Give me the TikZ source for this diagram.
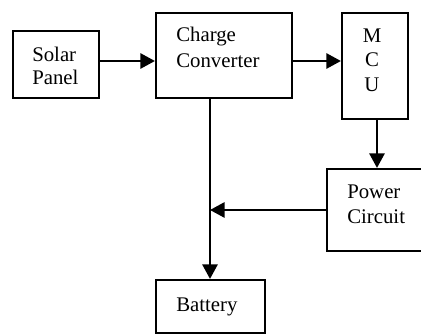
\documentclass[tikz,border=0pt]{standalone}
\usepackage{fontspec}
\setmainfont{Liberation Serif}
\usetikzlibrary{arrows.meta,fit}
\begin{document}
\begin{tikzpicture}[x=0.75pt,y=-0.75pt,
  box/.style={draw, line width=1.6pt, inner sep=0pt},
  lbl/.style={inner sep=0pt, anchor=base west, font=\fontsize{15.6}{18}\selectfont},
  clbl/.style={inner sep=0pt, anchor=base, font=\fontsize{15.6}{18}\selectfont},
  arr/.style={line width=1.6pt, -{Triangle[length=11pt,width=11.5pt]}}]
\useasboundingbox (0,0) rectangle (421,334);
% boxes
\node[box, fit={(13,31) (99,98)}] (solar) {};
\node[box, fit={(156,13) (292,98)}] (charge) {};
\node[box, fit={(342,13) (408,119)}] (mcu) {};
\node[box, fit={(327,169) (424,251)}] (power) {};
\node[box, fit={(156,280) (265,333)}] (battery) {};
% texts
\node[lbl] (t1) at (32,62) {Solar};
\node[lbl] (t2) at (32,85) {Panel};
\node[lbl] (t3) at (176,42) {Charge};
\node[lbl] (t4) at (176,68) {Converter};
\node[clbl] (t5) at (372,43) {M};
\node[clbl] (t6) at (372,67) {C};
\node[clbl] (t7) at (372,92) {U};
\node[lbl] (t8) at (347,199) {Power};
\node[lbl] (t9) at (347,224) {Circuit};
\node[lbl] (t10) at (176,312) {Battery};
% connectors
\coordinate (r1) at (0,61);
\coordinate (c2) at (377,0);
\coordinate (c3) at (210,0);
\draw[arr] (solar.east |- r1) -- (charge.west |- r1);
\draw[arr] (charge.east |- r1) -- (mcu.west |- r1);
\draw[arr] (mcu.south -| c2) -- (power.north -| c2);
\draw[arr] (charge.south -| c3) -- (battery.north -| c3);
\draw[arr] (power.west) -- (power.west -| c3);
\end{tikzpicture}
\end{document}
